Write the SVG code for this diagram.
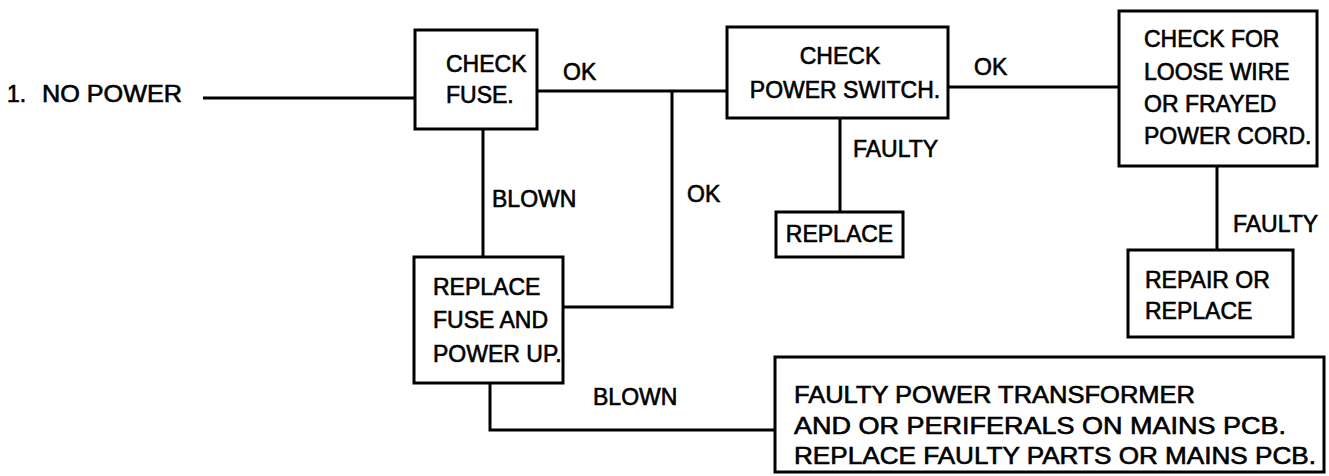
<svg xmlns="http://www.w3.org/2000/svg" width="1329" height="476" viewBox="0 0 1329 476">
<style>
text{font-family:"Liberation Sans",Arial,sans-serif;font-size:23px;fill:#000;stroke:#000;stroke-width:0.6}
.box{fill:#fff;stroke:#000;stroke-width:3}
.ln{fill:none;stroke:#000;stroke-width:3}
</style>
<rect width="1329" height="476" fill="#fff"/>
<g id="connectors">
<path class="ln" d="M203 98H415"/>
<path class="ln" d="M537 91H727"/>
<path class="ln" d="M672 91V307H563"/>
<path class="ln" d="M483 129V257"/>
<path class="ln" d="M490 383V430H775"/>
<path class="ln" d="M948 87H1119"/>
<path class="ln" d="M840 118V212"/>
<path class="ln" d="M1217 166V250"/>
</g>
<g id="labels">
<text x="563" y="80">OK</text>
<text x="492" y="207">BLOWN</text>
<text x="687" y="202">OK</text>
<text x="853" y="157">FAULTY</text>
<text x="974" y="75">OK</text>
<text x="1233" y="232">FAULTY</text>
<text x="593" y="405">BLOWN</text>
</g>
<g id="start">
<text x="7" y="102">1.</text>
<text x="42" y="102" textLength="140" lengthAdjust="spacingAndGlyphs">NO POWER</text>
</g>
<g id="check-fuse">
<rect class="box" x="415" y="30" width="122" height="99"/>
<text x="446" y="72">CHECK</text>
<text x="446" y="103">FUSE.</text>
</g>
<g id="replace-fuse">
<rect class="box" x="414" y="257" width="149" height="126"/>
<text x="433" y="295">REPLACE</text>
<text x="433" y="328">FUSE AND</text>
<text x="433" y="362">POWER UP.</text>
</g>
<g id="check-switch">
<rect class="box" x="727" y="27" width="221" height="91"/>
<text x="840" y="64" text-anchor="middle">CHECK</text>
<text x="845" y="98" text-anchor="middle">POWER SWITCH.</text>
</g>
<g id="replace-switch">
<rect class="box" x="776" y="212" width="127" height="45"/>
<text x="839.5" y="242" text-anchor="middle">REPLACE</text>
</g>
<g id="check-cord">
<rect class="box" x="1119" y="11" width="198" height="155"/>
<text x="1144" y="47">CHECK FOR</text>
<text x="1144" y="80">LOOSE WIRE</text>
<text x="1144" y="112">OR FRAYED</text>
<text x="1144" y="144">POWER CORD.</text>
</g>
<g id="repair-cord">
<rect class="box" x="1128" y="250" width="165" height="87"/>
<text x="1145" y="288">REPAIR OR</text>
<text x="1145" y="319">REPLACE</text>
</g>
<g id="faulty-transformer">
<rect class="box" x="775" y="357" width="549" height="115"/>
<text x="794" y="403" textLength="401" lengthAdjust="spacingAndGlyphs">FAULTY POWER TRANSFORMER</text>
<text x="794" y="434" textLength="492" lengthAdjust="spacingAndGlyphs">AND OR PERIFERALS ON MAINS PCB.</text>
<text x="794" y="464" textLength="522" lengthAdjust="spacingAndGlyphs">REPLACE FAULTY PARTS OR MAINS PCB.</text>
</g>
</svg>
